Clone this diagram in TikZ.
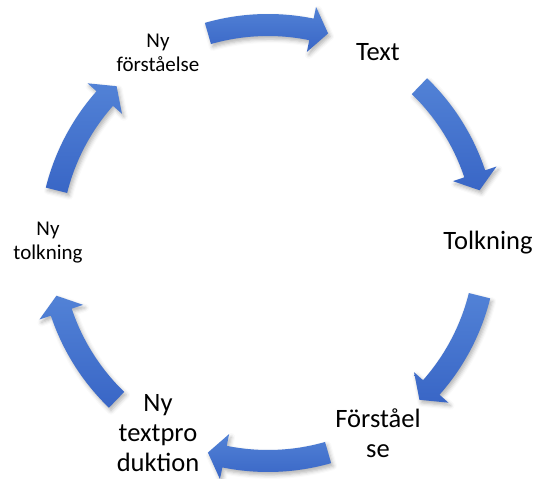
\documentclass[tikz,border=0pt]{standalone}
\usepackage{fontspec}
\setmainfont{Carlito}
\usetikzlibrary{shadows.blur}
\definecolor{arrowtop}{HTML}{5282D6}
\definecolor{arrowbottom}{HTML}{3966C6}

\begin{document}
\begin{tikzpicture}[x=1pt, y=1pt,
  bigtext/.style={align=center, font=\fontsize{26.5}{30}\selectfont},
  smalltext/.style={align=center, font=\fontsize{21}{24}\selectfont},
  cyclearrow/.style={top color=arrowtop, bottom color=arrowbottom, draw=none,
    blur shadow={shadow xshift=2pt, shadow yshift=-3pt, shadow blur radius=4pt, shadow opacity=30}}]
\useasboundingbox (0,0) rectangle (536,479);
\coordinate (mid) at (268,236);

\node [bigtext] (text) at ([shift={(60:220)}]mid) {Text};
\node [bigtext] (tolkning) at ([shift={(0:220)}]mid) {Tolkning};
\node [bigtext] (forstaelse) at ([shift={(-60:220)}]mid) {Förståel\\se};
\node [bigtext] (nytextprod) at ([shift={(-120:220)}]mid) {Ny\\textpro\\duktion};
\node [smalltext] (nytolkning) at ([shift={(180:220)}]mid) {Ny\\tolkning};
\node [smalltext] (nyforstaelse) at ([shift={(120:220)}]mid) {Ny\\förståelse};

% block arrows round the cycle
\begin{scope}[shift={(mid)}]
\foreach \a in {90,30,-30,-90,-150,150} {
  \shade[cyclearrow] ({\a+16}:229) arc[start angle=\a+16, end angle=\a-11.5, radius=229]
    -- ({\a-11.5}:241) -- ({\a-16}:218) -- ({\a-11.5}:195) -- ({\a-11.5}:207)
    arc[start angle=\a-11.5, end angle=\a+16, radius=207] -- cycle;
}
\end{scope}
\end{tikzpicture}
\end{document}
